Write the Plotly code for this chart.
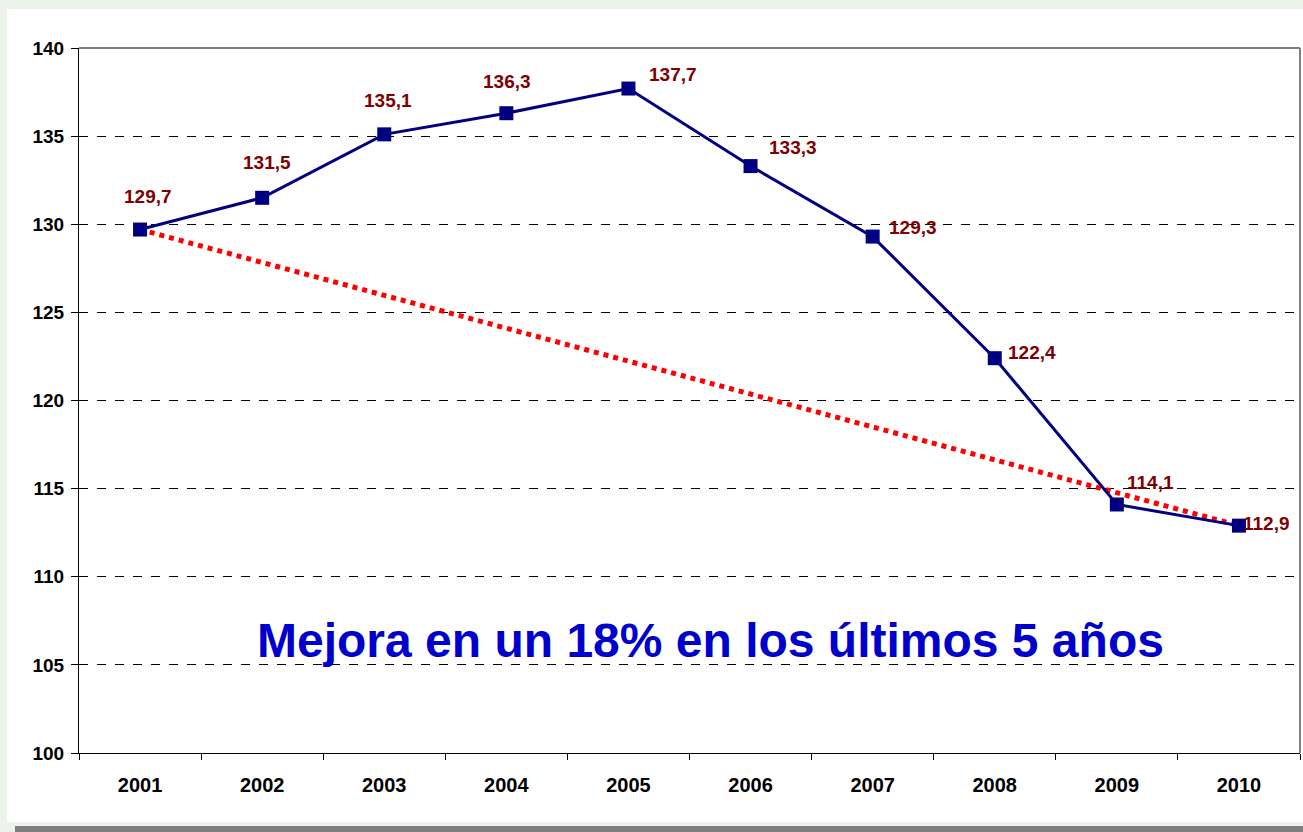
import plotly.graph_objects as go

years = ["2001", "2002", "2003", "2004", "2005", "2006", "2007", "2008", "2009", "2010"]
values = [129.7, 131.5, 135.1, 136.3, 137.7, 133.3, 129.3, 122.4, 114.1, 112.9]
value_labels = ["129,7", "131,5", "135,1", "136,3", "137,7", "133,3", "129,3", "122,4", "114,1", "112,9"]
trend_years = ["2001", "2010"]
trend_values = [129.7, 112.9]
y_ticks = [100, 105, 110, 115, 120, 125, 130, 135, 140]
note_text = "Mejora en un 18% en los últimos 5 años"

# label offsets (pixels) - style only
label_shift = [(8, 33), (5, 35), (4, 34), (1, 32), (45, 14), (42, 19), (40, 9), (37, 6), (34, 22), (28, 2)]

FONT = "Liberation Sans, Arial, sans-serif"

x_idx = list(range(len(years)))
trend_idx = [years.index(y) for y in trend_years]

fig = go.Figure()
fig.add_trace(go.Scatter(
    x=trend_idx, y=trend_values, mode="lines",
    line=dict(color="#FF0000", width=5, dash="dot"),
    hoverinfo="skip", showlegend=False))
fig.add_trace(go.Scatter(
    x=x_idx, y=values, mode="lines+markers",
    line=dict(color="#000080", width=3),
    marker=dict(symbol="square", size=14, color="#000080"),
    customdata=years, hovertemplate="%{customdata}: %{y}<extra></extra>",
    showlegend=False))

annotations = []
for xi, v, lab, (dx, dy) in zip(x_idx, values, value_labels, label_shift):
    annotations.append(dict(
        x=xi, y=v, xref="x", yref="y", text=lab, showarrow=False,
        xshift=dx, yshift=dy, xanchor="center", yanchor="middle",
        font=dict(family=FONT, size=19, color="#800000", weight="bold")))
annotations.append(dict(
    x=(710 - 79) / 1221, y=(753 - 640) / 705, xref="paper", yref="paper",
    text=note_text, showarrow=False, xanchor="center", yanchor="middle",
    font=dict(family=FONT, size=48, color="#0000CC", weight="bold")))

shapes = [
    dict(type="rect", xref="paper", yref="paper", layer="below",
         x0=(7 - 79) / 1221, x1=1.01, y0=(753 - 822) / 705, y1=(753 - 9) / 705,
         fillcolor="white", line=dict(width=0)),
    dict(type="rect", xref="paper", yref="paper", layer="below",
         x0=(15 - 79) / 1221, x1=1.01, y0=(753 - 833) / 705, y1=(753 - 826) / 705,
         fillcolor="#808080", line=dict(width=0)),
    dict(type="line", xref="paper", yref="paper", x0=0, x1=1, y0=1, y1=1,
         line=dict(color="#808080", width=2)),
    dict(type="line", xref="paper", yref="paper", x0=1, x1=1, y0=0, y1=1,
         line=dict(color="#808080", width=2)),
]

fig.update_layout(
    width=1303, height=832,
    margin=dict(l=79, r=3, t=48, b=79, autoexpand=False),
    paper_bgcolor="#EDF3EC",
    plot_bgcolor="white",
    annotations=annotations,
    shapes=shapes,
    font=dict(family=FONT),
    xaxis=dict(
        range=[-0.5, len(years) - 0.5], tickvals=x_idx, ticktext=years,
        ticks="", showline=True, linecolor="black", linewidth=1,
        showgrid=False, zeroline=False, automargin=False,
        ticklabelstandoff=14,
        minor=dict(tick0=-0.5, dtick=1, ticks="outside", ticklen=6,
                   tickcolor="black", showgrid=False),
        tickfont=dict(family=FONT, size=20, color="black", weight="bold")),
    yaxis=dict(
        range=[100, 140], tickvals=y_ticks, ticks="outside", ticklen=7,
        tickcolor="black", showline=True, linecolor="black", linewidth=1,
        showgrid=True, gridcolor="black", griddash="dash", gridwidth=1,
        zeroline=False, automargin=False, ticklabelstandoff=3,
        tickfont=dict(family=FONT, size=19, color="black", weight="bold")),
)

fig.write_html("out.html", config={"displayModeBar": False},
               post_script="document.body.style.margin='0';")
